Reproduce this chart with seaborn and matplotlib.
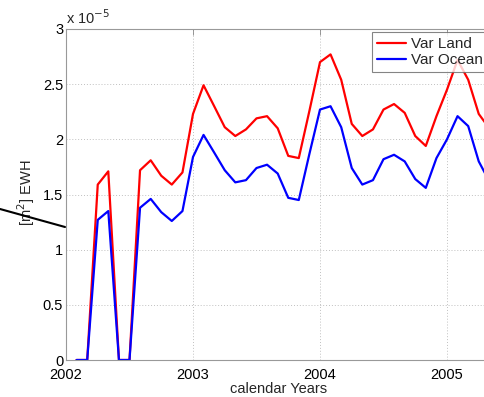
import numpy as np
import pandas as pd
import matplotlib
matplotlib.use("Agg")
import matplotlib.pyplot as plt
from matplotlib.lines import Line2D
import seaborn as sns

# decimal years (monthly samples)
years = [2002.083, 2002.167, 2002.250, 2002.333, 2002.417, 2002.500, 2002.583, 2002.667,
         2002.750, 2002.833, 2002.917, 2003.000, 2003.083, 2003.167, 2003.250, 2003.333,
         2003.417, 2003.500, 2003.583, 2003.667, 2003.750, 2003.833, 2003.917, 2004.000,
         2004.083, 2004.167, 2004.250, 2004.333, 2004.417, 2004.500, 2004.583, 2004.667,
         2004.750, 2004.833, 2004.917, 2005.000, 2005.083, 2005.167, 2005.250, 2005.333]

# values in units of 1e-5 m^2
var_land = [0, 0, 1.59, 1.71, 0, 0, 1.72, 1.81, 1.67, 1.59, 1.70, 2.23, 2.49, 2.30, 2.11, 2.03,
            2.09, 2.19, 2.21, 2.10, 1.85, 1.83, 2.26, 2.70, 2.77, 2.54, 2.14, 2.03, 2.09, 2.27,
            2.32, 2.24, 2.03, 1.94, 2.21, 2.45, 2.72, 2.54, 2.23, 2.10]
var_ocean = [0, 0, 1.27, 1.35, 0, 0, 1.38, 1.46, 1.34, 1.26, 1.35, 1.84, 2.04, 1.88, 1.72, 1.61,
             1.63, 1.74, 1.77, 1.69, 1.47, 1.45, 1.87, 2.27, 2.30, 2.11, 1.74, 1.59, 1.63, 1.82,
             1.86, 1.80, 1.64, 1.56, 1.83, 2.00, 2.21, 2.12, 1.80, 1.62]

series_names = ["Var Land", "Var Ocean"]
series_colors = ["#ff0000", "#0000ff"]

xticks = [2002, 2003, 2004, 2005]
yticks = [0, 0.5, 1, 1.5, 2, 2.5, 3]
ytick_labels = ["0", "0.5", "1", "1.5", "2", "2.5", "3"]

df = pd.DataFrame({
    "year": years * 2,
    "value": var_land + var_ocean,
    "series": [series_names[0]] * len(years) + [series_names[1]] * len(years),
})

sns.set_style("white")
plt.rcParams["font.family"] = ["Liberation Sans", "DejaVu Sans"]

W, H = 485, 397
fig = plt.figure(figsize=(W / 100, H / 100), dpi=100)
left_px, right_px, top_px, bottom_px = 66, 492, 29, 360
ax = fig.add_axes([left_px / W, (H - bottom_px) / H,
                   (right_px - left_px) / W, (bottom_px - top_px) / H])

sns.lineplot(data=df, x="year", y="value", hue="series", palette=series_colors,
             hue_order=series_names, linewidth=1.6, ax=ax, legend=False)

ax.set_xlim(2002, 2002 + (right_px - left_px) / 127.0)
ax.set_ylim(0, 3)
ax.set_xticks(xticks)
ax.set_xticklabels([str(t) for t in xticks])
ax.set_yticks(yticks)
ax.set_yticklabels(ytick_labels)
ax.tick_params(direction="in", length=4, width=0.6, color="#888888",
               labelsize=10.5, labelcolor="black", top=True)
ax.tick_params(axis="x", pad=5.5)
ax.tick_params(axis="y", pad=2)
ax.grid(True, linestyle=(0, (1, 2)), color="#c0c0c0", linewidth=0.7)
for s in ["left", "bottom", "top"]:
    ax.spines[s].set_color("#999999")
    ax.spines[s].set_linewidth(0.8)
ax.spines["right"].set_visible(False)

ax.set_xlabel("calendar Years", fontsize=10.5, labelpad=0)
ax.set_ylabel(r"[m$^2$] EWH", fontsize=10.5)
ax.yaxis.set_label_coords(-0.068, 0.505)

ax.text(0.0, 1.005, r"x 10$^{-5}$", transform=ax.transAxes, fontsize=10.5,
        ha="left", va="bottom")

handles = [Line2D([0], [0], color=c, lw=1.6) for c in series_colors]
leg = ax.legend(handles, series_names, loc="upper right",
                bbox_to_anchor=((485 + 3) / W, (H - 32) / H), bbox_transform=fig.transFigure,
                fontsize=11, frameon=True, fancybox=False, borderpad=0.35,
                labelspacing=0.1, handlelength=1.9, handletextpad=0.3, borderaxespad=0)
leg.get_frame().set_edgecolor("#666666")
leg.get_frame().set_linewidth(0.8)

# stray black stroke crossing the y-label in the reference
fig.add_artist(Line2D([0 / W, 65 / W], [(H - 209) / H, (H - 227) / H],
                      transform=fig.transFigure, color="black", lw=1.5))

fig.savefig("out.png", dpi=100)
